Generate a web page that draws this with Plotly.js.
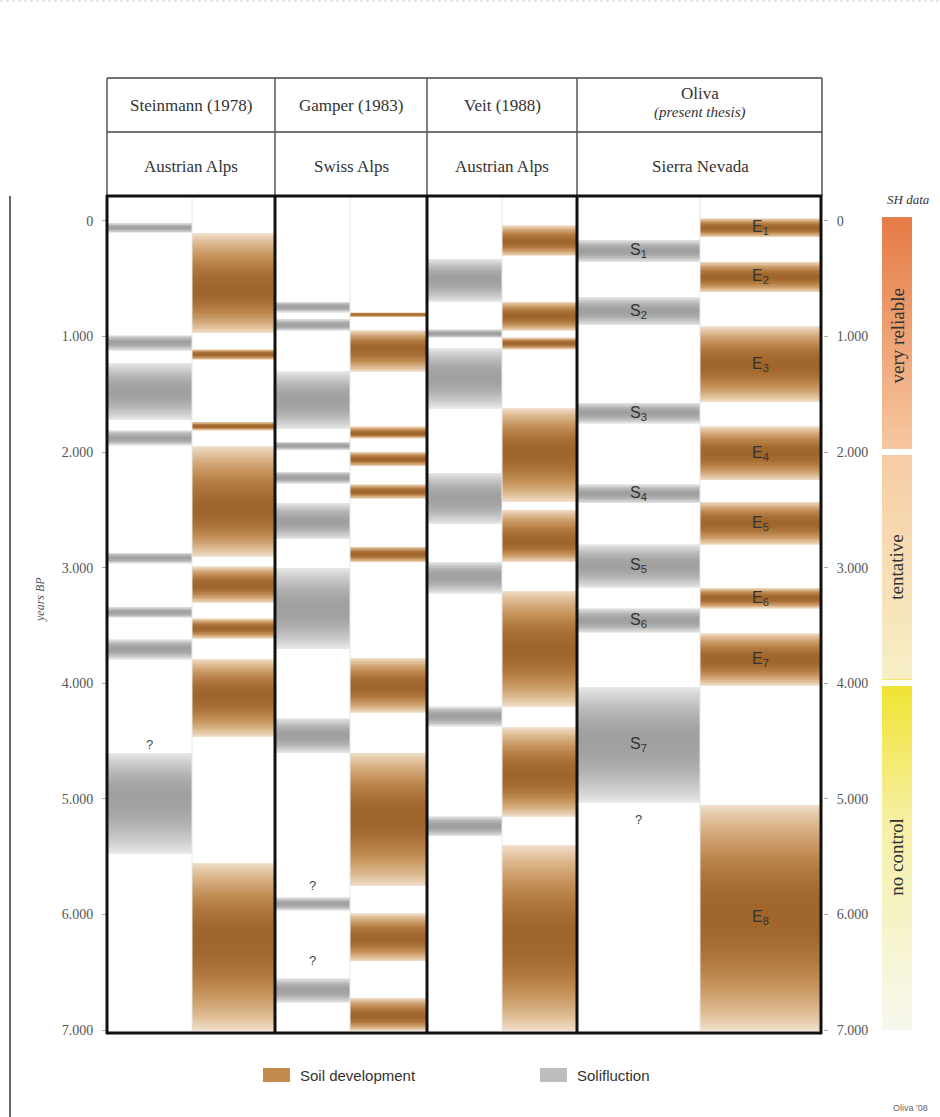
<!DOCTYPE html>
<html><head><meta charset="utf-8">
<script src="https://cdn.plot.ly/plotly-3.0.1.min.js"></script>
<style>html,body{margin:0;padding:0;background:#fff}</style>
</head><body><div id="chart" style="width:940px;height:1117px"></div>
<script>
// ---------------- DATA ----------------
const studies = ['Steinmann (1978)', 'Gamper (1983)', 'Veit (1988)', 'Oliva'];
const studySubtitles = ['', '', '', '(present thesis)'];
const regions = ['Austrian Alps', 'Swiss Alps', 'Austrian Alps', 'Sierra Nevada'];

// bands as [start, end, darkest] in years BP
const steinmannSolifluction = [[20,100,60],[990,1120,1050],[1230,1720,1480],[1810,1940,1880],[2870,2960,2915],[3340,3430,3385],[3620,3790,3700],[4600,5470,4980]];
const steinmannSoil = [[110,970,600],[1110,1200,1155],[1740,1810,1775],[1950,2900,2500],[2990,3300,3150],[3440,3610,3520],[3790,4460,4100],[5550,7000,6200]];
const gamperSolifluction = [[700,790,745],[850,950,900],[1300,1800,1550],[1910,1980,1945],[2170,2270,2220],[2440,2750,2600],[3000,3700,3350],[4300,4600,4450],[5850,5960,5905],[6550,6760,6650]];
const gamperSoil = [[790,830,810],[950,1300,1100],[1780,1880,1840],[2000,2120,2060],[2280,2400,2340],[2820,2950,2880],[3780,4250,4030],[4600,5750,5150],[5990,6400,6200],[6720,7000,6880]];
const veitSolifluction = [[330,700,500],[940,1010,975],[1100,1620,1350],[2180,2620,2400],[2950,3220,3070],[4200,4370,4280],[5150,5320,5230]];
const veitSoil = [[40,300,180],[700,950,820],[1010,1110,1060],[1620,2430,2000],[2500,2950,2780],[3200,4200,3700],[4380,5150,4800],[5400,7000,6200]];
const olivaSolifluction = [[165,355,260],[660,900,780],[1575,1750,1660],[2280,2440,2360],[2800,3170,2980],[3350,3560,3455],[4030,5030,4500]];
const olivaSoil = [[-20,140,60],[355,615,485],[915,1565,1240],[1780,2240,2010],[2430,2800,2610],[3175,3350,3260],[3565,4015,3790],[5050,7000,6000]];
const olivaSolifluctionLabels = ['S<sub>1</sub>','S<sub>2</sub>','S<sub>3</sub>','S<sub>4</sub>','S<sub>5</sub>','S<sub>6</sub>','S<sub>7</sub>'];
const olivaSoilLabels = ['E<sub>1</sub>','E<sub>2</sub>','E<sub>3</sub>','E<sub>4</sub>','E<sub>5</sub>','E<sub>6</sub>','E<sub>7</sub>','E<sub>8</sub>'];

// uncertain ("?") markers: column index (0..7) and year
const questionColumn = [0, 2, 2, 6];
const questionYear = [4530, 5750, 6400, 5180];

// SH data reliability
const reliabilityLabels = ['very reliable', 'tentative', 'no control'];
const reliabilityStart = [0, 2000, 4000];
const reliabilityEnd = [2000, 4000, 7000];

const yearTicks = [0, 1000, 2000, 3000, 4000, 5000, 6000, 7000];
const legendLabels = ['Soil development', 'Solifluction'];

// ---------------- LAYOUT CONSTANTS ----------------
const W = 940, H = 1117;
const PL = 107, PR = 925, PT = 196, PB = 1033;
const Y_TOP = -215, Y_BOT = 7025;
const colEdges = [107, 192, 275, 350, 427, 502, 577, 700, 820];
const columnBands = [steinmannSolifluction, steinmannSoil, gamperSolifluction, gamperSoil, veitSolifluction, veitSoil, olivaSolifluction, olivaSoil];
const columnKind = ['gray','brown','gray','brown','gray','brown','gray','brown'];
const px = x => (x - PL) / (PR - PL);
const py = y => (PB - y) / (PB - PT);

const brownScale = [[0,'#f2e2cf'],[0.35,'#ddb98f'],[0.7,'#c18d55'],[1,'#a0652b']];
const grayScale = [[0,'#ebebeb'],[0.5,'#c8c8c8'],[1,'#a0a0a0']];

const STEP = 5;
const ys = [];
for (let y = Y_TOP; y <= Y_BOT; y += STEP) ys.push(y);

function intensity(bands, y) {
  for (const b of bands) {
    const [s, e, p] = b;
    if (y >= s && y <= e) {
      let d = y < p ? (p - y) / Math.max(p - s, 1) : (y - p) / Math.max(e - p, 1);
      d = Math.min(1, Math.max(0, d));
      return Math.pow(Math.cos(d * Math.PI / 2), 0.8);
    }
  }
  return null;
}

const traces = [];
columnBands.forEach((bands, i) => {
  traces.push({
    type: 'heatmap', xaxis: 'x', yaxis: 'y',
    x: [colEdges[i], colEdges[i + 1]],
    y: ys,
    z: ys.map(y => [intensity(bands, y)]),
    zmin: 0, zmax: 1,
    colorscale: columnKind[i] === 'brown' ? brownScale : grayScale,
    showscale: false, hoverinfo: 'skip'
  });
});

// reliability bar
const GAP = 30;
const relScale = [[0,'#e57b45'],[0.333,'#f6c7a0'],[0.3335,'#f7cca4'],[0.666,'#f7efc6'],[0.6665,'#f1e332'],[0.8,'#f6f0a6'],[1,'#f7f7ee']];
const relYs = [];
for (let y = -30; y <= 7000; y += STEP) relYs.push(y);
traces.push({
  type: 'heatmap', xaxis: 'x2', yaxis: 'y',
  x: [0, 1], y: relYs,
  z: relYs.map(y => {
    for (let i = 0; i < reliabilityLabels.length; i++) {
      const s = reliabilityStart[i] + (i > 0 ? GAP : -30);
      const e = reliabilityEnd[i] - (i < reliabilityLabels.length - 1 ? GAP : 0);
      if (y >= s && y <= e) return [i + Math.min(0.999, (y - s) / (e - s))];
    }
    return [null];
  }),
  zmin: 0, zmax: 3, colorscale: relScale, showscale: false, hoverinfo: 'skip'
});
// invisible trace to activate yaxis2
traces.push({type:'scatter', x:[0.5], y:[0], xaxis:'x2', yaxis:'y2', mode:'markers', marker:{opacity:0}, hoverinfo:'skip', showlegend:false});

const serif = 'Liberation Serif, Times New Roman, serif';
const sans = 'Liberation Sans, Arial, sans-serif';

const shapes = [];
const annotations = [];
function note(o) { annotations.push(Object.assign({showarrow:false, xanchor:'center', yanchor:'middle'}, o)); }

// header lines
[78, 132].forEach(y => shapes.push({type:'line', xref:'paper', yref:'paper', x0:px(107), x1:px(822), y0:py(y), y1:py(y), line:{color:'#444', width:1.5}}));
[107, 275, 427, 577, 822].forEach(x => shapes.push({type:'line', xref:'paper', yref:'paper', x0:px(x), x1:px(x), y0:py(78), y1:py(196), line:{color:'#555', width:1.5}}));
// inner light dividers
[192, 350, 502, 700].forEach(x => shapes.push({type:'line', xref:'paper', yref:'paper', x0:px(x), x1:px(x), y0:py(196), y1:py(PB), line:{color:'#e6e6e6', width:1}, layer:'above'}));
// thick frame
[107, 275, 427, 577, 821].forEach(x => shapes.push({type:'line', xref:'paper', yref:'paper', x0:px(x), x1:px(x), y0:py(195), y1:py(PB + 1), line:{color:'#111', width:3}, layer:'above'}));
[196, PB].forEach(y => shapes.push({type:'line', xref:'paper', yref:'paper', x0:px(106), x1:px(822), y0:py(y), y1:py(y), line:{color:'#111', width:3}, layer:'above'}));
// outer page line
shapes.push({type:'line', xref:'paper', yref:'paper', x0:px(10), x1:px(10), y0:py(196), y1:py(H), line:{color:'#666', width:2}});
shapes.push({type:'line', xref:'paper', yref:'paper', x0:px(0), x1:px(W), y0:py(1), y1:py(1), line:{color:'#cfcfcf', width:1, dash:'dot'}});

// header texts
const groupCenters = [191, 351, 502, 700];
const headFont = {family:serif, size:17, color:'#333'};
studies.forEach((s, i) => {
  if (studySubtitles[i]) {
    note({xref:'paper', yref:'paper', x:px(groupCenters[i]), y:py(94), text:s, font:headFont});
    note({xref:'paper', yref:'paper', x:px(groupCenters[i]), y:py(113), text:'<i>' + studySubtitles[i] + '</i>', font:{family:serif, size:15, color:'#333'}});
  } else {
    note({xref:'paper', yref:'paper', x:px(groupCenters[i]), y:py(105), text:s, font:headFont});
  }
  note({xref:'paper', yref:'paper', x:px(groupCenters[i]), y:py(167), text:regions[i], font:headFont});
});

// Oliva labels
const colCenter = i => (colEdges[i] + colEdges[i + 1]) / 2;
olivaSolifluction.forEach((b, i) => note({xref:'x', yref:'y', x:colCenter(6), y:(b[0] + b[1]) / 2, text:olivaSolifluctionLabels[i], font:{family:sans, size:16, color:'#333'}}));
olivaSoil.forEach((b, i) => note({xref:'x', yref:'y', x:colCenter(7), y:(b[0] + b[1]) / 2, text:olivaSoilLabels[i], font:{family:sans, size:16, color:'#333'}}));
// question marks
questionColumn.forEach((c, i) => note({xref:'x', yref:'y', x:colCenter(c), y:questionYear[i], text:'?', font:{family:sans, size:13, color:'#444'}}));

// reliability labels
reliabilityLabels.forEach((t, i) => note({xref:'x2', yref:'y', x:0.5, y:(reliabilityStart[i] + reliabilityEnd[i]) / 2, text:t, textangle:-90, font:{family:serif, size:19, color:'#333'}}));
note({xref:'paper', yref:'paper', x:px(908), y:py(199), text:'<i>SH data</i>', font:{family:serif, size:13, color:'#333'}});

// y title
note({xref:'paper', yref:'paper', x:px(40), y:py(600), text:'<i>years BP</i>', textangle:-90, font:{family:serif, size:12, color:'#555'}});

// legend
const legendSwatchX = [263, 540];
const legendColors = ['#c38a4c', '#bdbdbd'];
legendLabels.forEach((t, i) => {
  shapes.push({type:'rect', xref:'paper', yref:'paper', x0:px(legendSwatchX[i]), x1:px(legendSwatchX[i] + 27), y0:py(1082), y1:py(1068), fillcolor:legendColors[i], line:{width:0}});
  note({xref:'paper', yref:'paper', x:px(legendSwatchX[i] + 35), y:py(1075), xanchor:'left', text:t, font:{family:sans, size:15, color:'#333'}});
});
note({xref:'paper', yref:'paper', x:px(930), y:py(1108), xanchor:'right', text:"Oliva '08", font:{family:sans, size:9, color:'#666'}});

const yTickFont = {family:serif, size:14, color:'#555'};
const layout = {
  width: W, height: H,
  margin: {l: PL, r: W - PR, t: PT, b: H - PB, pad: 0},
  paper_bgcolor: '#fff', plot_bgcolor: 'rgba(0,0,0,0)',
  separators: ',.',
  showlegend: false,
  xaxis: {domain:[0, px(820)], range:[107, 820], visible:false, fixedrange:true},
  xaxis2: {domain:[px(882), px(912)], range:[0, 1], visible:false, anchor:'y'},
  yaxis: {range:[Y_BOT, Y_TOP], tickvals:yearTicks, tickformat:',d', ticks:'outside', ticklen:4, tickcolor:'#aaa', ticklabelstandoff:6,
          showgrid:false, zeroline:false, showline:false, tickfont:yTickFont},
  yaxis2: {range:[Y_BOT, Y_TOP], overlaying:'y', side:'right', anchor:'free', position:px(823), tickvals:yearTicks, tickformat:',d',
           ticks:'outside', ticklen:4, tickcolor:'#aaa', ticklabelstandoff:6, showgrid:false, zeroline:false, showline:false, tickfont:yTickFont},
  shapes: shapes, annotations: annotations
};
Plotly.newPlot('chart', traces, layout, {staticPlot:true, displayModeBar:false});
</script></body></html>
